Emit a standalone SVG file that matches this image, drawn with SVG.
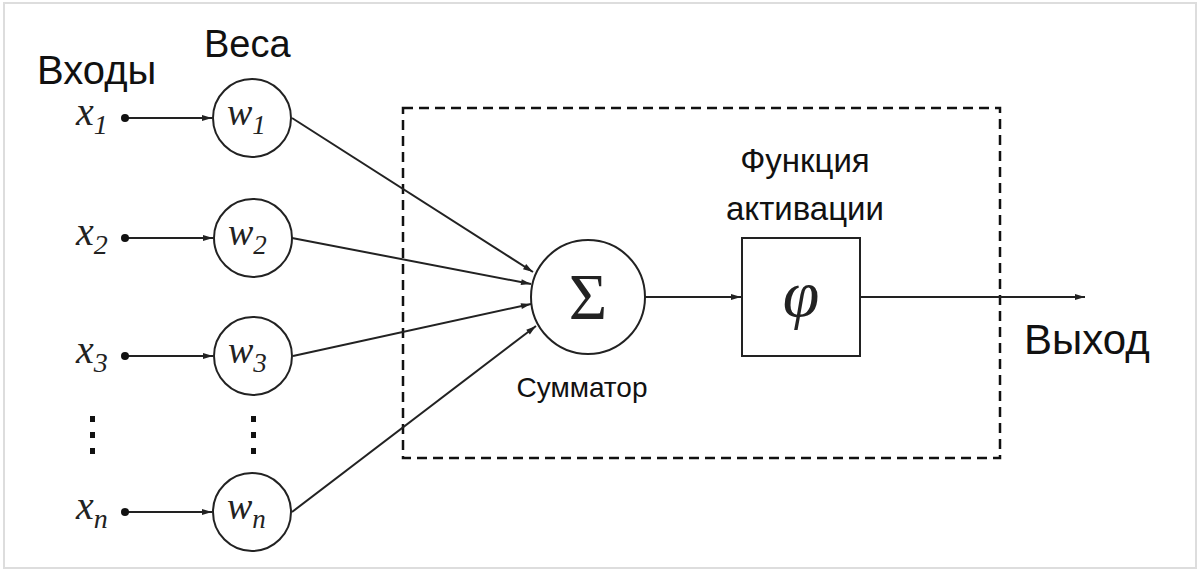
<svg xmlns="http://www.w3.org/2000/svg" width="1200" height="572" viewBox="0 0 1200 572">
<style>
.s{font-family:"Liberation Sans",Arial,sans-serif;fill:#111}
.m{font-family:"Liberation Serif","Times New Roman",serif;font-style:italic;fill:#222}
.c{fill:#fff;stroke:#222;stroke-width:2}
.l{stroke:#222;stroke-width:2;fill:none}
</style>
<defs>
<marker id="b" viewBox="0 0 10 10" refX="10" refY="5" markerWidth="12" markerHeight="10" markerUnits="userSpaceOnUse" orient="auto"><path d="M0,2L10,5L0,8z" fill="#222"/></marker></defs>
<rect x="0" y="0" width="1200" height="572" fill="#fff"/>
<rect x="4" y="3" width="1192" height="565" fill="none" stroke="#ddd" stroke-width="2"/>
<text class="s" x="37" y="84" font-size="40">Входы</text>
<text class="s" x="204" y="57" font-size="38">Веса</text>
<g id="dots" fill="#111"><rect x="90" y="416" width="5" height="6"/><rect x="90" y="432" width="5" height="6"/><rect x="90" y="448" width="5" height="6"/><rect x="251" y="416" width="5" height="6"/><rect x="251" y="432" width="5" height="6"/><rect x="251" y="448" width="5" height="6"/></g>
<g id="frame"><rect x="403" y="108" width="597" height="350" fill="none" stroke="#111" stroke-width="2.5" stroke-dasharray="10,6"/></g>
<g id="connectors">
<line class="l" x1="125" y1="118" x2="212" y2="118" marker-end="url(#b)"/>
<line class="l" x1="125" y1="238" x2="213" y2="238" marker-end="url(#b)"/>
<line class="l" x1="125" y1="356" x2="213" y2="356" marker-end="url(#b)"/>
<line class="l" x1="125" y1="512" x2="212" y2="512" marker-end="url(#b)"/>
<line class="l" x1="292" y1="118" x2="533" y2="272" marker-end="url(#b)"/>
<line class="l" x1="292" y1="238" x2="531" y2="284" marker-end="url(#b)"/>
<line class="l" x1="293" y1="356" x2="531" y2="304" marker-end="url(#b)"/>
<line class="l" x1="292" y1="512" x2="536" y2="326" marker-end="url(#b)"/>
<line class="l" x1="645" y1="297" x2="741" y2="297" marker-end="url(#b)"/>
<line class="l" x1="860" y1="297" x2="1085" y2="297" marker-end="url(#b)"/>
</g>
<g id="inputs" fill="#111"><circle cx="125" cy="118" r="4"/><circle cx="125" cy="238" r="4"/><circle cx="125" cy="356" r="4"/><circle cx="125" cy="512" r="4"/>
<text class="m" x="76" y="125" font-size="40">x<tspan font-size="28" dy="9">1</tspan></text>
<text class="m" x="76" y="245" font-size="40">x<tspan font-size="28" dy="9">2</tspan></text>
<text class="m" x="76" y="363" font-size="40">x<tspan font-size="28" dy="9">3</tspan></text>
<text class="m" x="76" y="519" font-size="40">x<tspan font-size="28" dy="9">n</tspan></text></g>
<g id="w1"><circle class="c" cx="252" cy="118" r="39"/><text class="m" x="227" y="125" font-size="38">w<tspan font-size="27" dy="9">1</tspan></text></g>
<g id="w2"><circle class="c" cx="253" cy="238" r="39"/><text class="m" x="228" y="245" font-size="38">w<tspan font-size="27" dy="9">2</tspan></text></g>
<g id="w3"><circle class="c" cx="253" cy="356" r="39"/><text class="m" x="228" y="363" font-size="38">w<tspan font-size="27" dy="9">3</tspan></text></g>
<g id="wn"><circle class="c" cx="252" cy="512" r="39"/><text class="m" x="227" y="519" font-size="38">w<tspan font-size="27" dy="9">n</tspan></text></g>
<g id="sum"><circle class="c" cx="588" cy="297" r="57"/><text x="588" y="319" text-anchor="middle" font-family="Liberation Serif,serif" font-size="66" fill="#222">Σ</text>
<text class="s" x="582" y="397" font-size="28" text-anchor="middle">Сумматор</text></g>
<g id="act"><rect class="c" x="742" y="238" width="118" height="118"/><text class="m" x="801" y="316" font-size="66" text-anchor="middle">φ</text>
<text class="s" x="805" y="172" font-size="33" text-anchor="middle">Функция</text>
<text class="s" x="805" y="220" font-size="33" text-anchor="middle">активации</text></g>
<text class="s" x="1024" y="354" font-size="42">Выход</text>
</svg>
